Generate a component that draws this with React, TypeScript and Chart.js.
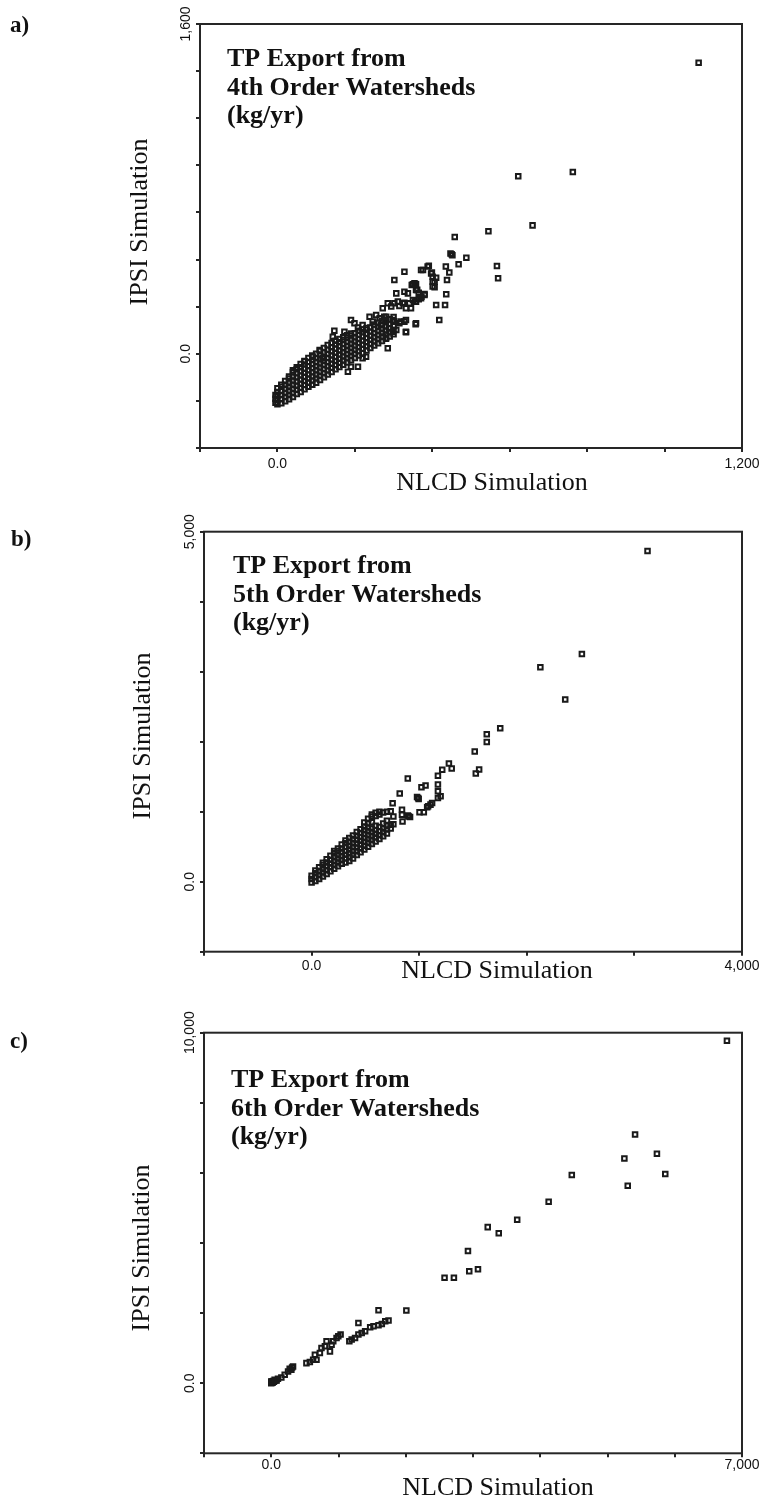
import React, { useEffect, useRef } from "react";
import { Chart, registerables } from "chart.js";
Chart.register(...registerables);

type Pt = [number, number];
type Col = [number, number[]];
type Lbl = [number, string];

// ---------- a) 4th order watersheds ----------
const order4XTicks = [-200, 0, 200, 400, 600, 800, 1000, 1200];
const order4YTicks = [-457.14, -228.57, 0, 228.57, 457.14, 685.71, 914.29, 1142.86, 1371.43, 1600];
const order4XTickLabels: Lbl[] = [[0, "0.0"], [1200, "1,200"]];
const order4YTickLabels: Lbl[] = [[0, "0.0"], [1600, "1,600"]];
// dense cluster, listed column by column (NLCD value, IPSI values)
const order4Band: Col[] = [
  [-5, [-238, -218, -200]],
  [0, [-245, -225, -205, -185, -167]],
  [10, [-240, -220, -200, -180, -160, -150]],
  [20, [-230, -210, -190, -170, -150, -132]],
  [30, [-220, -200, -180, -160, -140, -120, -110]],
  [40, [-210, -190, -170, -150, -130, -110, -90, -80]],
  [50, [-195, -175, -155, -135, -115, -95, -75, -65]],
  [60, [-185, -165, -145, -125, -105, -85, -65, -50]],
  [70, [-172, -152, -132, -112, -92, -72, -52, -35]],
  [80, [-160, -140, -120, -100, -80, -60, -40, -20]],
  [90, [-150, -130, -110, -90, -70, -50, -30, -8]],
  [100, [-140, -120, -100, -80, -60, -40, -20, 0]],
  [110, [-127, -107, -87, -67, -47, -27, -7, 13]],
  [120, [-114, -94, -74, -54, -34, -14, 6, 28]],
  [130, [-101, -81, -61, -41, -21, -1, 19, 42]],
  [140, [-88, -68, -48, -28, -8, 12, 32, 52]],
  [150, [-75, -55, -35, -15, 5, 25, 45, 63]],
  [160, [-64, -44, -24, -4, 16, 36, 56, 72]],
  [170, [-53, -33, -13, 7, 27, 47, 67, 80]],
  [180, [-42, -22, -2, 18, 38, 58, 78, 90]],
  [190, [-31, -11, 9, 29, 49, 69, 89, 98]],
  [200, [-20, 0, 20, 40, 60, 80, 100]],
  [210, [-8, 12, 32, 52, 72, 92, 112]],
  [220, [4, 24, 44, 64, 84, 104, 118]],
  [230, [16, 36, 56, 76, 96, 116, 125]],
  [240, [28, 48, 68, 88, 108, 128]],
  [250, [40, 60, 80, 100, 120, 142]],
  [260, [51, 71, 91, 111, 131, 150]],
  [270, [62, 82, 102, 122, 142, 160]],
  [280, [73, 93, 113, 133, 153, 165]],
  [290, [84, 104, 124, 144, 168]],
  [300, [95, 115, 135, 155, 178]],
];
const order4Spread: Pt[] = [
  [70, -38], [91, -14], [109, 18], [117, -22], [143, 83], [147, 112], [173, 107], [190, 164],
  [199, 148], [208, 128], [220, 140], [238, 180], [246, 156], [255, 188], [264, 172], [276, 180],
  [285, 245], [294, 229], [302, 245], [311, 253], [324, 245], [332, 221], [345, 221], [358, 253],
  [371, 269], [380, 285], [307, 293], [328, 301], [337, 293], [354, 342], [358, 309], [376, 407],
  [388, 423], [397, 390], [401, 374], [406, 350], [401, 326], [328, 398], [302, 358], [302, 156],
  [319, 156], [332, 164], [358, 148], [332, 107], [285, 27], [208, -63], [190, -63], [182, -87],
  [220, -22], [229, -14], [458, 567], [450, 483], [452, 478], [447, 486], [488, 466], [468, 434],
  [567, 426], [570, 366], [435, 423], [444, 394], [438, 358], [436, 289], [410, 237], [433, 237],
  [418, 164], [391, 427], [371, 407], [350, 337], [358, 337], [372, 277], [365, 265], [380, 290],
  [356, 253], [328, 248], [357, 143], [332, 104], [399, 394], [410, 369], [401, 350], [406, 323],
  [361, 310], [365, 296], [347, 334], [356, 339], [350, 261], [341, 245], [315, 232], [272, 221],
  [281, 180], [298, 164], [315, 148], [328, 156], [268, 140], [289, 124], [307, 115], [298, 107],
  [272, 83], [281, 75], [1088, 1412], [622, 861], [763, 882], [659, 623], [545, 594],
];

// ---------- b) 5th order watersheds ----------
const order5XTicks = [-1000, 0, 1000, 2000, 3000, 4000];
const order5YTicks = [-1000, 0, 1000, 2000, 3000, 4000, 5000];
const order5XTickLabels: Lbl[] = [[0, "0.0"], [4000, "4,000"]];
const order5YTickLabels: Lbl[] = [[0, "0.0"], [5000, "5,000"]];
const order5Band: Col[] = [
  [0, [-10, 40, 85]],
  [35, [10, 65, 120, 160]],
  [70, [40, 95, 150, 205]],
  [105, [75, 130, 185, 240, 270]],
  [140, [110, 165, 220, 275, 320]],
  [175, [150, 205, 260, 315, 370]],
  [210, [185, 240, 295, 350, 405, 440]],
  [245, [220, 275, 330, 385, 440, 475]],
  [280, [255, 310, 365, 420, 475, 530]],
  [315, [275, 330, 385, 440, 495, 550, 590]],
  [350, [295, 350, 405, 460, 515, 570, 625]],
  [385, [330, 385, 440, 495, 550, 605, 660]],
  [420, [380, 435, 490, 545, 600, 655, 710]],
  [455, [420, 475, 530, 585, 640, 695, 750]],
  [490, [460, 515, 570, 625, 680, 735, 790, 845]],
  [525, [500, 555, 610, 665, 720, 775, 830, 900]],
  [560, [540, 595, 650, 705, 760, 850, 930, 960]],
  [595, [575, 630, 685, 740, 800, 940, 985]],
  [630, [610, 665, 720, 780, 960, 1000]],
  [665, [650, 705, 760, 830, 990]],
  [700, [690, 745, 800, 870, 1000]],
  [735, [760, 815, 1005]],
  [760, [820, 930]],
];
const order5Spread: Pt[] = [
  [3122, 4723], [2512, 3254], [2126, 3062], [2357, 2603], [1753, 2192], [1628, 2106], [1628, 1995],
  [1516, 1861], [1557, 1603], [1526, 1546], [1276, 1689], [1302, 1618], [1214, 1598], [1174, 1512],
  [1174, 1388], [1174, 1292], [1199, 1220], [1174, 1196], [1059, 1374], [1021, 1349], [1120, 1124],
  [1083, 1077], [1105, 1101], [1043, 991], [1003, 991], [894, 1474], [819, 1259], [753, 1120],
  [990, 1196], [995, 1180], [980, 1210], [840, 1029], [840, 957], [845, 861], [903, 933], [915, 925],
  [895, 945], [1074, 1062],
];

// ---------- c) 6th order watersheds ----------
const order6XTicks = [-1000, 0, 1000, 2000, 3000, 4000, 5000, 6000, 7000];
const order6YTicks = [-2000, 0, 2000, 4000, 6000, 8000, 10000];
const order6XTickLabels: Lbl[] = [[0, "0.0"], [7000, "7,000"]];
const order6YTickLabels: Lbl[] = [[0, "0.0"], [10000, "10,000"]];
const order6Points: Pt[] = [
  [0, 0], [15, 10], [0, 30], [20, 20], [10, 50], [30, 60], [40, 40], [0, 49], [50, 97], [60, 70],
  [80, 80], [100, 126], [150, 163], [200, 241], [250, 335], [274, 413], [299, 384], [310, 450],
  [324, 478], [523, 573], [574, 602], [623, 670], [649, 814], [673, 670], [723, 860], [747, 1003],
  [798, 1052], [822, 1195], [873, 908], [897, 1100], [922, 1195], [971, 1289], [997, 1338],
  [1031, 1387], [1161, 1195], [1196, 1244], [1246, 1289], [1296, 1387], [1296, 1719], [1345, 1433],
  [1396, 1481], [1471, 1596], [1520, 1625], [1595, 1653], [1644, 1691], [1695, 1768], [1744, 1788],
  [1595, 2083], [2009, 2074], [2577, 3009], [2716, 3009], [2944, 3192], [3074, 3249], [2925, 3774],
  [3219, 4453], [3383, 4281], [3657, 4662], [4125, 5178], [4469, 5943], [5301, 5636], [5251, 6410],
  [5410, 7097], [5735, 6544], [5859, 5971], [6776, 9771],
];

const titleLines4 = ["TP Export from", "4th Order Watersheds", "(kg/yr)"];
const titleLines5 = ["TP Export from", "5th Order Watersheds", "(kg/yr)"];
const titleLines6 = ["TP Export from", "6th Order Watersheds", "(kg/yr)"];

function flatten(cols: Col[]): Pt[] {
  const out: Pt[] = [];
  for (const [x, ys] of cols) for (const y of ys) out.push([x, y]);
  return out;
}

const SERIF = '"Liberation Serif", "Times New Roman", serif';
const SANS = '"Liberation Sans", Arial, sans-serif';
const INK = "#111";

const decorPlugin = {
  id: "decor",
  afterDraw(chart: any, _args: any, o: any) {
    const { ctx, chartArea: a, scales } = chart;
    const xs = scales.x;
    const ys = scales.y;
    ctx.save();
    ctx.strokeStyle = "#262626";
    ctx.lineWidth = 2;
    ctx.strokeRect(a.left, a.top, a.right - a.left, a.bottom - a.top);

    ctx.fillStyle = INK;
    ctx.font = `14px ${SANS}`;
    ctx.textAlign = "center";
    ctx.textBaseline = "middle";
    for (const [v, t] of o.xLabels as Lbl[]) {
      ctx.fillText(t, xs.getPixelForValue(v), a.bottom + o.xLabelGap);
    }
    for (const [v, t] of o.yLabels as Lbl[]) {
      ctx.save();
      ctx.translate(a.left - 14, ys.getPixelForValue(v));
      ctx.rotate(-Math.PI / 2);
      ctx.fillText(t, 0, 0);
      ctx.restore();
    }

    // panel letter
    ctx.textAlign = "left";
    ctx.textBaseline = "alphabetic";
    ctx.font = `bold 23px ${SERIF}`;
    ctx.fillText(o.letter, o.letterX, o.letterY);

    // in-plot title
    ctx.font = `bold 26px ${SERIF}`;
    (o.lines as string[]).forEach((line, i) => {
      ctx.fillText(line, a.left + o.titleDx, a.top + o.titleDy + i * 28.5);
    });

    // axis titles
    ctx.font = `26px ${SERIF}`;
    ctx.textAlign = "center";
    ctx.fillText("NLCD Simulation", o.xTitleX, o.xTitleY);
    ctx.save();
    ctx.translate(o.yTitleX, o.yTitleY);
    ctx.rotate(-Math.PI / 2);
    ctx.textBaseline = "middle";
    ctx.fillText("IPSI Simulation", 0, 0);
    ctx.restore();
    ctx.restore();
  },
};

type Spec = {
  points: Pt[];
  xTicks: number[];
  yTicks: number[];
  padding: { left: number; right: number; top: number; bottom: number };
  decor: any;
};

const specs: Spec[] = [
  {
    points: [...flatten(order4Band), ...order4Spread],
    xTicks: order4XTicks,
    yTicks: order4YTicks,
    padding: { left: 196, right: 18, top: 24, bottom: 48 },
    decor: {
      xLabels: order4XTickLabels, yLabels: order4YTickLabels, xLabelGap: 16,
      letter: "a)", letterX: 10, letterY: 32, lines: titleLines4, titleDx: 27, titleDy: 42,
      xTitleX: 492, xTitleY: 490, yTitleX: 140, yTitleY: 222,
    },
  },
  {
    points: [...flatten(order5Band), ...order5Spread],
    xTicks: order5XTicks,
    yTicks: order5YTicks,
    padding: { left: 200, right: 18, top: 31.7, bottom: 44.3 },
    decor: {
      xLabels: order5XTickLabels, yLabels: order5YTickLabels, xLabelGap: 14,
      letter: "b)", letterX: 11, letterY: 46, lines: titleLines5, titleDx: 29, titleDy: 41.5,
      xTitleX: 497, xTitleY: 478, yTitleX: 143, yTitleY: 236,
    },
  },
  {
    points: order6Points,
    xTicks: order6XTicks,
    yTicks: order6YTicks,
    padding: { left: 200, right: 18, top: 32.7, bottom: 42.7 },
    decor: {
      xLabels: order6XTickLabels, yLabels: order6YTickLabels, xLabelGap: 12,
      letter: "c)", letterX: 10, letterY: 48, lines: titleLines6, titleDx: 27, titleDy: 54.5,
      xTitleX: 498, xTitleY: 495, yTitleX: 142, yTitleY: 248,
    },
  },
];

function axis(ticks: number[], position: string) {
  return {
    type: "linear" as const,
    position,
    min: ticks[0],
    max: ticks[ticks.length - 1],
    afterBuildTicks: (s: any) => {
      s.ticks = ticks.map((v) => ({ value: v }));
    },
    ticks: { display: false },
    border: { display: false },
    grid: { display: true, drawOnChartArea: false, drawTicks: true, tickLength: 4, color: "#262626", lineWidth: 2 },
  };
}

function Panel({ spec, top }: { spec: Spec; top: number }) {
  const ref = useRef<HTMLCanvasElement>(null);
  useEffect(() => {
    const chart = new Chart(ref.current as HTMLCanvasElement, {
      type: "scatter",
      data: {
        datasets: [
          {
            data: spec.points.map(([x, y]) => ({ x, y })),
            pointStyle: "rect",
            pointRadius: 3.2,
            pointBorderWidth: 2,
            pointBorderColor: "#1a1a1a",
            pointBackgroundColor: "rgba(0,0,0,0)",
          } as any,
        ],
      },
      options: {
        responsive: false,
        animation: false,
        devicePixelRatio: 1,
        events: [],
        layout: { padding: spec.padding },
        plugins: { legend: { display: false }, tooltip: { enabled: false }, decor: spec.decor } as any,
        scales: { x: axis(spec.xTicks, "bottom"), y: axis(spec.yTicks, "left") } as any,
      },
      plugins: [decorPlugin],
    });
    return () => chart.destroy();
  }, [spec]);
  return (
    <canvas
      ref={ref}
      width={760}
      height={500}
      style={{ position: "absolute", left: 0, top, display: "block" }}
    />
  );
}

export default function App() {
  return (
    <div style={{ position: "absolute", left: 0, top: 0, width: 760, height: 1500, background: "#fff" }}>
      {specs.map((s, i) => (
        <Panel key={i} spec={s} top={i * 500} />
      ))}
    </div>
  );
}
